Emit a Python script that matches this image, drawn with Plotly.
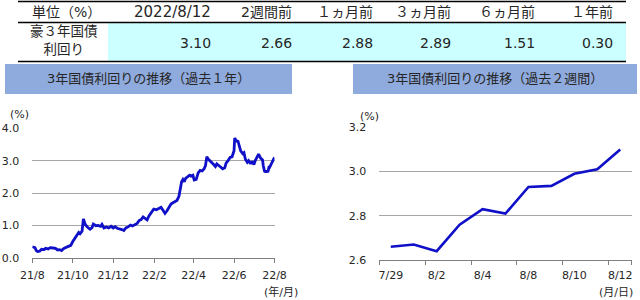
import plotly.graph_objects as go

# ---------------- data ----------------
table_label_header = "単位（%）"
table_row_label = "豪３年国債<br>利回り"
table_headers = ["2022/8/12", "2週間前", "１ヵ月前", "３ヵ月前", "６ヵ月前", "１年前"]
table_values = [3.10, 2.66, 2.88, 2.89, 1.51, 0.30]

left_title = "3年国債利回りの推移（過去１年）"
right_title = "3年国債利回りの推移（過去２週間）"

left_dates = [
    "2021-08-12", "2021-08-16", "2021-08-18", "2021-08-20", "2021-08-23", "2021-08-26",
    "2021-08-30", "2021-09-01", "2021-09-05", "2021-09-08", "2021-09-12", "2021-09-16",
    "2021-09-19", "2021-09-22", "2021-09-25", "2021-09-28", "2021-10-02", "2021-10-06",
    "2021-10-09", "2021-10-12", "2021-10-15", "2021-10-18", "2021-10-21", "2021-10-23",
    "2021-10-26", "2021-10-28", "2021-10-29", "2021-10-31", "2021-11-03", "2021-11-07",
    "2021-11-10", "2021-11-12", "2021-11-16", "2021-11-19", "2021-11-23", "2021-11-25",
    "2021-11-28", "2021-12-02", "2021-12-05", "2021-12-09", "2021-12-12", "2021-12-15",
    "2021-12-18", "2021-12-22", "2021-12-25", "2021-12-28", "2021-12-31", "2022-01-04",
    "2022-01-07", "2022-01-10", "2022-01-14", "2022-01-17", "2022-01-20", "2022-01-23",
    "2022-01-26", "2022-01-29", "2022-02-01", "2022-02-04", "2022-02-08", "2022-02-11",
    "2022-02-15", "2022-02-19", "2022-02-22", "2022-02-25", "2022-02-28", "2022-03-03",
    "2022-03-06", "2022-03-09", "2022-03-12", "2022-03-15", "2022-03-18", "2022-03-21",
    "2022-03-23", "2022-03-25", "2022-03-27", "2022-03-29", "2022-03-31", "2022-04-03",
    "2022-04-06", "2022-04-08", "2022-04-11", "2022-04-13", "2022-04-16", "2022-04-19",
    "2022-04-22", "2022-04-25", "2022-04-28", "2022-04-30", "2022-05-02", "2022-05-04",
    "2022-05-07", "2022-05-10", "2022-05-12", "2022-05-15", "2022-05-17", "2022-05-20",
    "2022-05-23", "2022-05-26", "2022-05-29", "2022-05-31", "2022-06-03", "2022-06-06",
    "2022-06-09", "2022-06-12", "2022-06-13", "2022-06-15", "2022-06-18", "2022-06-20",
    "2022-06-22", "2022-06-25", "2022-06-27", "2022-06-29", "2022-07-02", "2022-07-04",
    "2022-07-07", "2022-07-09", "2022-07-12", "2022-07-14", "2022-07-17", "2022-07-19",
    "2022-07-22", "2022-07-25", "2022-07-26", "2022-07-27", "2022-07-28", "2022-07-29",
    "2022-08-01", "2022-08-02", "2022-08-03", "2022-08-04", "2022-08-05", "2022-08-08",
    "2022-08-09", "2022-08-10", "2022-08-11", "2022-08-12",
]
left_values = [
    0.34, 0.31, 0.22, 0.19, 0.20, 0.26,
    0.25, 0.29, 0.27, 0.31, 0.30, 0.29,
    0.24, 0.25, 0.22, 0.28, 0.32, 0.36,
    0.38, 0.50, 0.60, 0.72, 0.78, 0.74,
    0.82, 1.20, 1.15, 1.02, 0.95, 0.88,
    0.93, 1.04, 0.99, 1.00, 0.97, 1.03,
    0.92, 0.95, 0.92, 0.97, 0.92, 0.96,
    0.91, 0.90, 0.87, 0.84, 0.92, 0.96,
    1.01, 0.98, 1.02, 1.06, 1.15, 1.18,
    1.26, 1.20, 1.17, 1.30, 1.42, 1.50,
    1.48, 1.53, 1.56, 1.47, 1.37, 1.45,
    1.58, 1.66, 1.70, 1.73, 1.77, 1.90,
    2.15, 2.35, 2.42, 2.35, 2.45, 2.50,
    2.55, 2.52, 2.55, 2.40, 2.42, 2.62,
    2.70, 2.68, 2.75, 2.85, 3.12, 3.05,
    3.00, 2.92, 2.89, 2.82, 2.90, 2.85,
    2.80, 2.75, 2.78, 2.92, 3.00, 3.10,
    3.12, 3.30, 3.70, 3.62, 3.60, 3.45,
    3.30, 3.22, 3.25, 3.05, 2.95, 3.00,
    2.90, 2.98, 2.88, 3.00, 3.10, 3.20,
    3.08, 3.02, 2.85, 2.70, 2.67, 2.66,
    2.67, 2.64, 2.76, 2.83, 2.81, 2.93,
    2.93, 2.99, 3.01, 3.10,
]
left_tickvals = ["2021-08-12", "2021-10-12", "2021-12-12", "2022-02-12",
                 "2022-04-12", "2022-06-12", "2022-08-12"]
left_ticktext = ["21/8", "21/10", "21/12", "22/2", "22/4", "22/6", "22/8"]

right_days = ["7/29", "8/1", "8/2", "8/3", "8/4", "8/5", "8/8", "8/9", "8/10", "8/11", "8/12"]
right_values = [2.66, 2.67, 2.64, 2.76, 2.83, 2.81, 2.93, 2.935, 2.99, 3.01, 3.10]
right_ticklabels = ["7/29", "8/2", "8/4", "8/8", "8/10", "8/12"]

# ---------------- style ----------------
W, H = 640, 300
FONT = "DejaVu Sans, Noto Sans CJK JP, sans-serif"
TXT = "#262626"
LINE = "#1010C8"
GRID = "#A6A6A6"
AXIS = "#7F7F7F"
BAR = "#8FAADC"
CYAN = "#CCFFFF"


def px(x):
    return x / W


def py(y):
    return 1 - y / H


fig = go.Figure()
fig.add_trace(go.Scatter(x=left_dates, y=left_values, mode="lines",
                         line=dict(color=LINE, width=2.8), xaxis="x", yaxis="y",
                         showlegend=False, hoverinfo="x+y"))
fig.add_trace(go.Scatter(x=right_days, y=right_values, mode="lines",
                         line=dict(color=LINE, width=2.6), xaxis="x2", yaxis="y2",
                         showlegend=False, hoverinfo="x+y"))

tickfont = dict(family=FONT, size=11, color=TXT)

fig.update_layout(
    width=W, height=H, margin=dict(l=0, r=0, t=0, b=0),
    paper_bgcolor="white", plot_bgcolor="white",
    font=dict(family=FONT, color=TXT),
    xaxis=dict(domain=[px(32.3), px(274.5)], type="date",
               range=["2021-08-12", "2022-08-12"],
               tickmode="array", tickvals=left_tickvals, ticktext=left_ticktext,
               tickangle=0, automargin=False, ticklabelstandoff=3,
               showgrid=False, showline=True, linecolor=AXIS, linewidth=1,
               ticks="outside", ticklen=4, tickcolor=AXIS, tickfont=tickfont,
               anchor="y", fixedrange=True),
    yaxis=dict(domain=[py(257.7), py(128.3)], range=[0, 4], dtick=1,
               tickformat=".1f", showgrid=True, gridcolor=GRID, gridwidth=1,
               zeroline=False, showline=False, ticks="", tickfont=tickfont,
               automargin=False,
               ticklabelstandoff=12, anchor="x", fixedrange=True),
    xaxis2=dict(domain=[px(379.3), px(631.7)], type="category",
                range=[-0.5, len(right_days) - 0.5],
                tickmode="array", tickvals=right_ticklabels, ticktext=right_ticklabels,
                tickson="boundaries", tickangle=0, automargin=False, ticklabelstandoff=5,
                showgrid=False, showline=True, linecolor=AXIS, linewidth=1,
                ticks="outside", ticklen=4, tickcolor=AXIS, tickfont=tickfont,
                anchor="y2", fixedrange=True),
    yaxis2=dict(domain=[py(260), py(127.3)], range=[2.6, 3.2], dtick=0.2,
                tickformat=".1f", showgrid=True, gridcolor=GRID, gridwidth=1,
                zeroline=False, showline=False, ticks="", tickfont=tickfont,
                automargin=False,
                ticklabelstandoff=12, anchor="x2", fixedrange=True),
)

shapes = []
annotations = []

# table background + rules
shapes.append(dict(type="rect", xref="paper", yref="paper",
                   x0=px(108), x1=px(626), y0=py(61), y1=py(23),
                   fillcolor=CYAN, line=dict(width=0), layer="below"))
for yy in (1.5, 22.5, 61.5):
    shapes.append(dict(type="line", xref="paper", yref="paper",
                       x0=px(18), x1=px(626), y0=py(yy), y1=py(yy),
                       line=dict(color="black", width=1.5)))

# title bars
for (x0, x1, title) in ((5, 292, left_title), (353, 637, right_title)):
    shapes.append(dict(type="rect", xref="paper", yref="paper",
                       x0=px(x0), x1=px(x1), y0=py(94), y1=py(64),
                       fillcolor=BAR, line=dict(width=0), layer="below"))
    annotations.append(dict(xref="paper", yref="paper", x=px((x0 + x1) / 2), y=py(79),
                            text=title, showarrow=False, xanchor="center", yanchor="middle",
                            font=dict(family=FONT, size=13, color=TXT)))

# table text
col_right = [213, 294, 375, 453, 537, 615]
annotations.append(dict(xref="paper", yref="paper", x=px(66), y=py(12),
                        text=table_label_header, showarrow=False, xanchor="center",
                        yanchor="middle", font=dict(family=FONT, size=14, color=TXT)))
annotations.append(dict(xref="paper", yref="paper", x=px(64), y=py(40),
                        text=table_row_label, showarrow=False, xanchor="center",
                        yanchor="middle", font=dict(family=FONT, size=13.5, color=TXT)))
for i, (xr, h, v) in enumerate(zip(col_right, table_headers, table_values)):
    annotations.append(dict(xref="paper", yref="paper", x=px(xr), y=py(12),
                            text=h, showarrow=False, xanchor="right", yanchor="middle",
                            font=dict(family=FONT, size=15 if i == 0 else 14, color=TXT)))
    annotations.append(dict(xref="paper", yref="paper", x=px(xr), y=py(43),
                            text=f"{v:.2f}", showarrow=False, xanchor="right",
                            yanchor="middle", font=dict(family=FONT, size=14, color=TXT)))

# axis unit labels
for (x, y, t) in ((19, 115, "(%)"), (369, 116, "(%)"),
                  (281, 292, "(年/月)"), (616, 292, "(月/日)")):
    annotations.append(dict(xref="paper", yref="paper", x=px(x), y=py(y), text=t,
                            showarrow=False, xanchor="center", yanchor="middle",
                            font=dict(family=FONT, size=11, color=TXT)))

fig.update_layout(shapes=shapes, annotations=annotations)
fig.write_html("out.html")
